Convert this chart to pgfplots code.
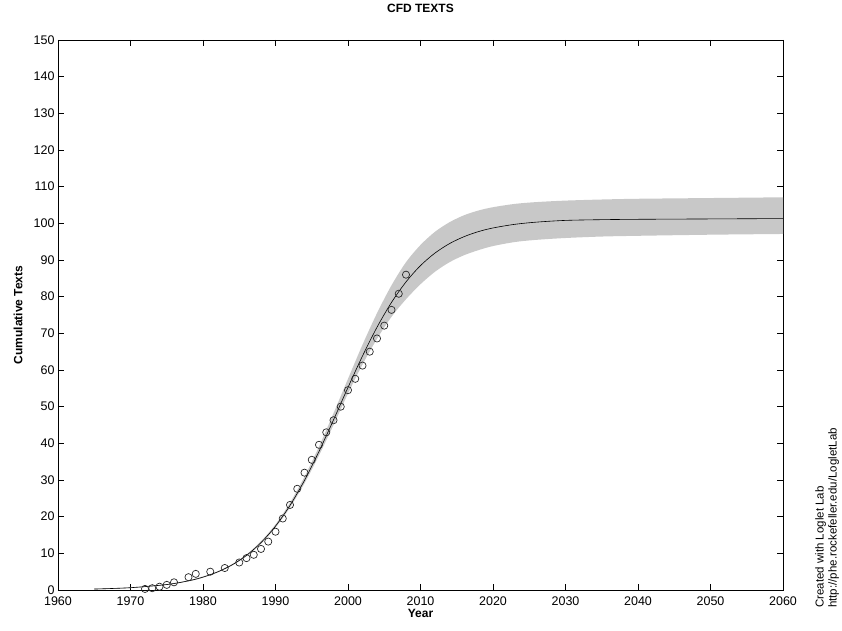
\documentclass[border=0pt]{standalone}
\usepackage{pgfplots}
\pgfplotsset{compat=1.18}
\usepgfplotslibrary{fillbetween}
\usepackage{fontspec}
\setmainfont{Liberation Sans}
\definecolor{bandgray}{RGB}{200,200,200}
\definecolor{markgray}{RGB}{40,40,40}

\begin{document}
\begin{tikzpicture}
\begin{axis}[
  at={(0,0)}, anchor=south west,
  scale only axis, width=725pt, height=550pt,
  xmin=1960, xmax=2060, ymin=0, ymax=150,
  xtick={1960,1970,...,2060}, ytick={0,10,...,150},
  tick align=inside, major tick length=6pt,
  tick style={black, line width=0.6pt},
  axis line style={line width=0.8pt},
  tick label style={font=\fontsize{12.5}{14}\selectfont},
  xticklabel style={yshift=-3.5pt},
  /pgf/number format/assume math mode=true,
  /pgf/number format/1000 sep={},
  title={CFD TEXTS},
  title style={font=\fontsize{12}{14}\selectfont\bfseries, at={(axis description cs:0.5,1.0382)}, anchor=base, inner sep=0pt},
  xlabel={Year},
  xlabel style={font=\fontsize{12}{14}\selectfont\bfseries, at={(axis description cs:0.5,-0.05)}, anchor=base, inner sep=0pt},
  ylabel={Cumulative Texts},
  ylabel style={font=\fontsize{12}{14}\selectfont\bfseries, at={(axis description cs:-0.0552,0.5)}, anchor=center, inner sep=0pt},
]
% confidence band of the logistic fit
\addplot[name path=upper, draw=none, smooth] coordinates {
  (1965,0.36) (1970,0.73) (1975,1.60) (1978,2.65) (1980,3.70) (1982,5.10)
  (1984,7.05) (1986,9.70) (1988,13.30) (1990,17.90) (1992,23.80) (1994,30.90)
  (1996,39.10) (1998,48.20) (2000,57.60) (2002,66.90) (2004,75.50) (2006,83.10)
  (2008,89.40) (2010,94.10) (2012,97.70) (2014,100.30) (2016,102.20) (2018,103.50)
  (2020,104.40) (2023,105.30) (2026,105.80) (2030,106.20) (2035,106.50)
  (2040,106.70) (2050,106.90) (2060,107.10)};
\addplot[name path=lower, draw=none, smooth] coordinates {
  (1965,0.16) (1970,0.53) (1975,1.40) (1978,2.35) (1980,3.35) (1982,4.75)
  (1984,6.65) (1986,9.20) (1988,12.60) (1990,17.00) (1992,22.50) (1994,29.10)
  (1996,36.70) (1998,45.00) (2000,53.60) (2002,61.50) (2004,68.50) (2006,74.50)
  (2008,79.30) (2010,83.40) (2012,86.80) (2014,89.40) (2016,91.30) (2018,92.70)
  (2020,93.80) (2023,94.90) (2026,95.50) (2030,96.00) (2035,96.40)
  (2040,96.60) (2050,96.90) (2060,97.10)};
\addplot[bandgray, draw=none] fill between[of=upper and lower];

% fitted logistic curve
\addplot[black, line width=0.6pt, smooth] coordinates {
  (1965,0.26) (1970,0.63) (1975,1.49) (1978,2.50) (1980,3.51) (1982,4.92)
  (1984,6.84) (1986,9.45) (1988,12.92) (1990,17.42) (1992,23.07) (1994,29.90)
  (1996,37.79) (1998,46.39) (2000,55.25) (2002,63.83) (2004,71.66) (2006,78.44)
  (2008,84.03) (2010,88.48) (2012,91.90) (2014,94.47) (2016,96.36) (2018,97.75)
  (2020,98.74) (2023,99.73) (2026,100.33) (2030,100.80) (2035,101.00)
  (2040,101.10) (2050,101.20) (2060,101.30)};

% observed cumulative counts
\addplot[only marks, mark=o, mark size=3.6pt, markgray, mark options={line width=0.7pt}] coordinates {
  (1972,0.3) (1973,0.5) (1974,0.9) (1975,1.4) (1976,2.1) (1978,3.5) (1979,4.4)
  (1981,5.0) (1983,6.0) (1985,7.5) (1986,8.7) (1987,9.6) (1988,11.2) (1989,13.2)
  (1990,15.9) (1991,19.5) (1992,23.2) (1993,27.6) (1994,32.0) (1995,35.5)
  (1996,39.6) (1997,43.0) (1998,46.3) (1999,50.0) (2000,54.5) (2001,57.6)
  (2002,61.2) (2003,65.0) (2004,68.6) (2005,72.1) (2006,76.4) (2007,80.8)
  (2008,86.0)};
\end{axis}
\node[rotate=90, anchor=north west, align=left, inner sep=0pt,
      font=\fontsize{11.5}{13}\selectfont] at (757pt,-18pt)
  {Created with Loglet Lab\\http://phe.rockefeller.edu/LogletLab};
\path (-58pt,-40pt) rectangle (784pt,590pt);
\end{tikzpicture}
\end{document}
